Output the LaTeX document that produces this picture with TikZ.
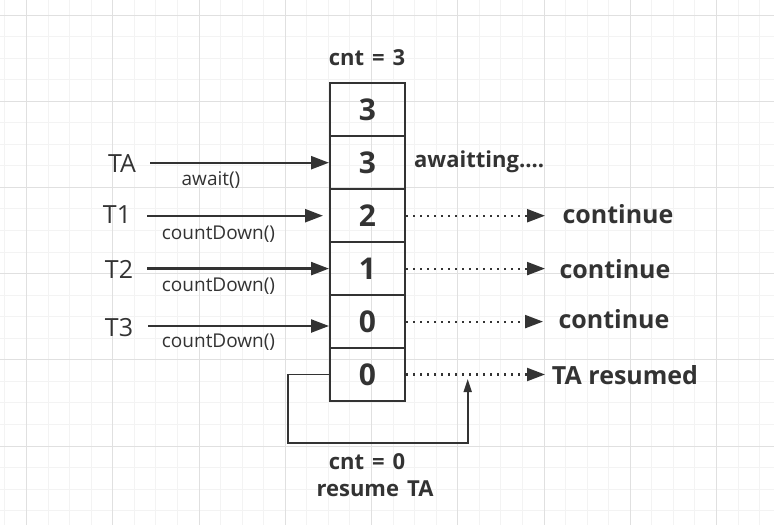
\documentclass[tikz,border=0pt]{standalone}
\usepackage{fontspec}
\setmainfont{Open Sans}
\usetikzlibrary{arrows.meta}
\definecolor{ink}{HTML}{333333}
\definecolor{gminor}{HTML}{F3F3F3}
\definecolor{gmajor}{HTML}{E0E0E0}
\newcommand{\notefont}{\bfseries\fontsize{22}{22}\selectfont\spaceskip=8pt\relax}
\tikzset{
  minorline/.style={draw=gminor, line width=1pt},
  majorline/.style={draw=gmajor, line width=1pt},
  cell/.style={draw=ink, line width=2pt, minimum width=75pt, minimum height=53pt, inner sep=0pt, text=ink, font=\bfseries\fontsize{30}{30}\selectfont},
  thread/.style={inner sep=0pt, anchor=base, text=ink, font=\fontsize{25}{25}\selectfont},
  call/.style={inner sep=0pt, anchor=base, text=ink, font=\fontsize{19}{19}\selectfont},
  note/.style={inner sep=0pt, anchor=base, text=ink, font=\notefont},
  result/.style={inner sep=0pt, anchor=base, text=ink, font=\bfseries\fontsize{25}{25}\selectfont},
  solidarrow/.style={draw=ink, line width=2.4pt, -{Triangle[length=18pt,width=13pt]}},
  dotarrow/.style={draw=ink, line width=2.2pt, dash pattern=on 2pt off 5pt, -{Triangle[length=18pt,width=13pt]}},
  looparrow/.style={draw=ink, line width=1.6pt, -{Triangle[length=13pt,width=8pt]}}
}
\begin{document}
\begin{tikzpicture}[x=1pt,y=-1pt]
\useasboundingbox (0,0) rectangle (774,525);
\fill[white] (0,0) rectangle (774,525);
% grid
\begin{scope}
\clip (0,0) rectangle (774,525);
\foreach \i in {-2,...,36}{\draw[minorline] ({26.5+21.5625*\i},0) -- ({26.5+21.5625*\i},525);}
\foreach \j in {-1,...,24}{\draw[minorline] (0,{15+21.55*\j}) -- (774,{15+21.55*\j});}
\foreach \i in {0,...,8}{\draw[majorline] ({26.5+86.25*\i},0) -- ({26.5+86.25*\i},525);}
\foreach \j in {0,...,5}{\draw[majorline] (0,{15+86.2*\j}) -- (774,{15+86.2*\j});}
\end{scope}

% counter cells
\node[cell] (c1) at (367.5,109.8) {3};
\node[cell] (c2) at (367.5,162.7) {3};
\node[cell] (c3) at (367.5,215.7) {2};
\node[cell] (c4) at (367.5,268.6) {1};
\node[cell] (c5) at (367.5,321.6) {0};
\node[cell] (c6) at (367.5,374.5) {0};

\node[note] (cnt3) at (367,65) {cnt = 3};
\node[note, anchor=base west] (wait) at (414,167) {awaitting....};

% threads
\node[thread] (TA) at (122,172) {TA};
\node[thread] (T1) at (117,223) {T1};
\node[thread] (T2) at (119,278) {T2};
\node[thread] (T3) at (119,336) {T3};

\coordinate (sTA) at (150,162.7);
\coordinate (sT1) at (147,215.7);
\coordinate (sT2) at (147,268.6);
\coordinate (sT3) at (148,326);

\draw[solidarrow] (sTA) -- (c2.west);
\draw[solidarrow, shorten >=6pt] (sT1) -- (c3.west);
\draw[solidarrow] (sT2) -- (c4.west);
\draw[solidarrow] (sT3) -- (sT3 -| c5.west);

\node[call] (aw) at (211,185.5) {await()};
\node[call] (cd1) at (218.5,239.3) {countDown()};
\node[call] (cd2) at (218.5,291.5) {countDown()};
\node[call] (cd3) at (218.5,347.5) {countDown()};

% results
\node[result] (r1) at (618,223) {continue};
\node[result] (r2) at (615,278.5) {continue};
\node[result] (r3) at (614,328) {continue};
\node[result] (r4) at (625,384) {TA resumed};

\coordinate (e1) at (545,215.7);
\coordinate (e2) at (545,268.6);
\coordinate (e3) at (543,321.6);
\coordinate (e4) at (545,374.5);
\draw[dotarrow] (c3.east) -- (e1);
\draw[dotarrow] (c4.east) -- (e2);
\draw[dotarrow] (c5.east) -- (e3);
\draw[dotarrow] (c6.east) -- (e4);

% loop
\coordinate (lp) at (467.7,379);
\draw[looparrow] (c6.west) -- (288,374.5) -- (288,443) -- (467.7,443) -- (lp);

\node[note] (cnt0) at (367,469) {cnt = 0};
\node[note] (resTA) at (375,496.5) {resume TA};
\end{tikzpicture}
\end{document}
